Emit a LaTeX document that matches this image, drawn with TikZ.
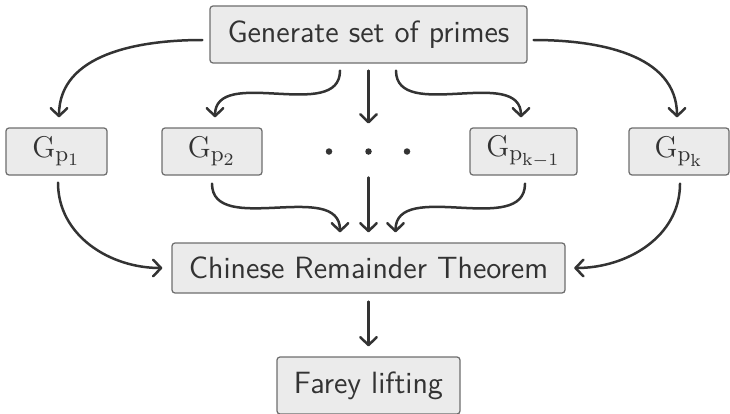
\documentclass[tikz,border=0pt]{standalone}
\usetikzlibrary{arrows.meta,calc}
\DeclareMathSizes{12.3}{12.3}{9.5}{7.5}
\definecolor{boxfill}{HTML}{EBEBEB}
\definecolor{boxline}{HTML}{6E6E6E}
\definecolor{linecol}{HTML}{333333}
\begin{document}
\begin{tikzpicture}[x=0.4pt,y=-0.4pt,
  box/.style={draw=boxline, fill=boxfill, rounded corners=1.2pt, line width=0.5pt,
    inner sep=0pt, font=\fontsize{12.3}{14}\selectfont\sffamily, align=center, text=linecol},
  conn/.style={draw=linecol, line width=1pt, line cap=round,
    -{Straight Barb[length=3.2pt,width=6.6pt,line cap=round,round]}},
  dotn/.style={circle, fill=linecol, inner sep=0pt, minimum size=2.6pt}]
\useasboundingbox (0,0) rectangle (730,413);
\node[box, minimum width=126.8pt, minimum height=22.8pt] (gen) at (368.5,34.5) {Generate set of primes};
\node[box, minimum width=40.4pt, minimum height=18.8pt] (g1) at (56.5,151.5) {$\mathrm{G}_{\mathrm{p}_{1}}$};
\node[box, minimum width=40pt, minimum height=18.8pt] (g2) at (212,151.5) {$\mathrm{G}_{\mathrm{p}_{2}}$};
\node[box, minimum width=42.8pt, minimum height=18.8pt] (gk1) at (523.5,151.5) {$\mathrm{G}_{\mathrm{p}_{\mathrm{k}-1}}$};
\node[box, minimum width=40pt, minimum height=18.8pt] (gk) at (679,151.5) {$\mathrm{G}_{\mathrm{p}_{\mathrm{k}}}$};
\node[dotn] (d1) at (329,151.5) {};
\node[dotn] (d2) at (368.5,151.5) {};
\node[dotn] (d3) at (407,151.5) {};
\node[box, minimum width=157.2pt, minimum height=20pt] (crt) at (368.5,268) {Chinese Remainder Theorem};
\node[box, minimum width=73.2pt, minimum height=22.8pt] (farey) at (368.5,385.5) {Farey lifting};
% top arrows
\draw[conn] ($(gen.west)+(-7,5.5)$) to[out=180,in=90] ($(g1.north)+(2.5,-10)$);
\draw[conn] ($(gen.south)+(-28.5,7)$) to[out=-90,in=90] ($(g2.north)+(3,-10)$);
\draw[conn] ($(gen.south)+(0,7)$) -- ($(d2)+(0,-28)$);
\draw[conn] ($(gen.south)+(27.5,7)$) to[out=-90,in=90] ($(gk1.north)+(-2.5,-10)$);
\draw[conn] ($(gen.east)+(6,5.5)$) to[out=0,in=90] ($(gk.north)+(-2,-10)$);
% bottom arrows
\draw[conn] ($(g1.south)+(1.5,7)$) to[out=-90,in=180] ($(crt.west)+(-9,0)$);
\draw[conn] ($(g2.south)+(0,8)$) to[out=-90,in=90] ($(crt.north)+(-28.5,-10)$);
\draw[conn] ($(d2)+(0,26)$) -- ($(crt.north)+(0,-10)$);
\draw[conn] ($(gk1.south)+(1.5,8)$) to[out=-90,in=90] ($(crt.north)+(27,-10)$);
\draw[conn] ($(gk.south)+(1,8)$) to[out=-90,in=0] ($(crt.east)+(8.5,0)$);
\draw[conn] ($(crt.south)+(0,8)$) -- ($(farey.north)+(0,-10)$);
\end{tikzpicture}
\end{document}
